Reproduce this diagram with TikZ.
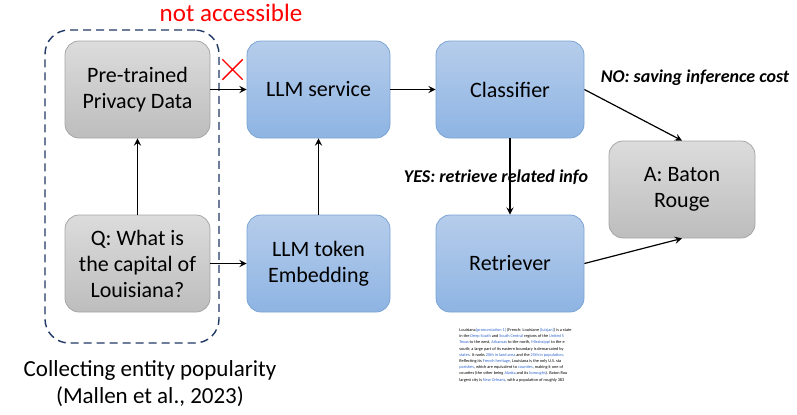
\documentclass[tikz,border=0pt]{standalone}
\usepackage{fontspec}
\setmainfont{Carlito}
\usepackage{tikz}
\usetikzlibrary{shapes.geometric, shapes.misc, arrows}
\definecolor{graytop}{HTML}{DCDCDC}
\definecolor{graybot}{HTML}{BDBDBD}
\definecolor{grayline}{HTML}{A6A6A6}
\definecolor{bluetop}{HTML}{B6CDEB}
\definecolor{bluebot}{HTML}{8EB4E3}
\definecolor{blueline}{HTML}{7BA3D4}
\definecolor{dashnavy}{HTML}{1F3864}
\definecolor{linkblue}{HTML}{3366CC}
\newcommand{\lnk}[1]{\textcolor{linkblue}{#1}}
\tikzstyle{graybox} = [rectangle, rounded corners=7pt, minimum width=72.5pt, minimum height=48.5pt, align=center, draw=grayline, top color=graytop, bottom color=graybot, font=\fontsize{11}{13}\selectfont]
\tikzstyle{bluebox} = [rectangle, rounded corners=7pt, minimum width=71.5pt, minimum height=48.5pt, align=center, draw=blueline, top color=bluetop, bottom color=bluebot, font=\fontsize{11}{13}\selectfont]
\tikzstyle{choice} = [font=\fontsize{9}{11}\selectfont\bfseries\itshape]
\tikzstyle{arrow} = [semithick,->,>=stealth]

\begin{document}
\begin{tikzpicture}[x=0.5pt, y=-0.5pt]
\useasboundingbox (0,0) rectangle (797,414);
\node (private) [graybox] at (137.5,89.5) {Pre-trained\\Privacy Data};
\node (question) [graybox] at (137.5,263.5) {Q: What is\\the capital of\\Louisiana?};
\node (service) [bluebox] at (318.5,89.5) {LLM service};
\node (embed) [bluebox] at (318.5,263.5) {LLM token\\Embedding};
\node (classifier) [bluebox, minimum width=74pt] at (510,89.5) {Classifier};
\node (retriever) [bluebox, minimum width=74pt] at (510,263.5) {Retriever};
\node (answer) [graybox, minimum width=73pt] at (682,189.5) {A: Baton\\Rouge};

% dashed frame round the private side
\node (frame) [draw=dashnavy, dashed, dash pattern=on 4pt off 2.5pt, line width=0.7pt, rounded corners=12pt, minimum width=87pt, minimum height=156.5pt] at (132,186.5) {};
\node (hidden) [text=red, font=\fontsize{12.5}{14}\selectfont] at (231,13) {not accessible};
\node (nox) [cross out, draw=red, line width=0.7pt, minimum size=9.5pt, inner sep=0pt] at (232.5,69.5) {};

\node (nolabel) [choice] at (695,78) {NO: saving inference cost};
\node (yeslabel) [choice] at (496,177) {YES: retrieve related info};
\node (source) [align=center, font=\fontsize{11.5}{13.5}\selectfont] at (150,384) {Collecting entity popularity\\(Mallen et al., 2023)};

% wiki excerpt under the retriever
\node (wiki) [inner sep=0pt, align=left, font=\fontsize{2.15}{3.1}\selectfont] at (515.5,355) {Louisiana\lnk{[pronunciation 1]} (French: Louisiane \lnk{[luizjan]}) is a state\\
in the \lnk{Deep South} and \lnk{South Central} regions of the \lnk{United S}\\
\lnk{Texas} to the west, \lnk{Arkansas} to the north, \lnk{Mississippi} to the e\\
south; a large part of its eastern boundary is demarcated by\\
\lnk{states}. It ranks \lnk{20th in land area} and the \lnk{25th in population}.\\
Reflecting its \lnk{French heritage}, Louisiana is the only U.S. sta\\
\lnk{parishes}, which are equivalent to \lnk{counties}, making it one of\\
counties (the other being \lnk{Alaska} and its \lnk{boroughs}). Baton Rou\\
largest city is \lnk{New Orleans}, with a population of roughly 383};

\draw [arrow] (question) -- (private);
\draw [arrow] (question) -- (embed);
\draw [arrow] (embed) -- (service);
\draw [arrow] (private) -- (service);
\draw [arrow] (service) -- (classifier);
\draw [arrow] (classifier) -- (retriever);
\draw [arrow] (classifier.east) -- (answer.north);
\draw [arrow] (retriever.east) -- (answer.south);
\end{tikzpicture}
\end{document}
